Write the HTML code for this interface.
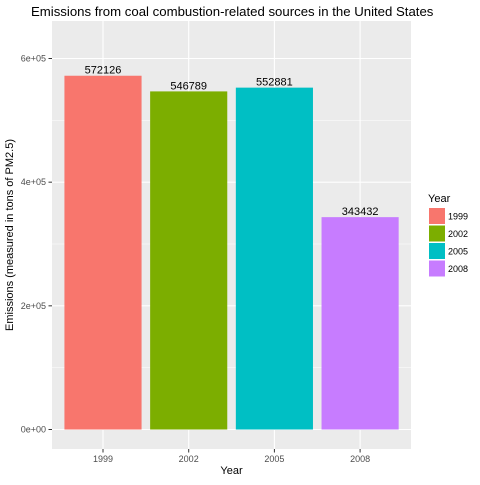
<!DOCTYPE html>
<html><head><meta charset="utf-8"><style>
body{margin:0;background:#fff;font-family:"Liberation Sans",sans-serif}
</style></head><body>
<svg id="chart" width="480" height="480" xmlns="http://www.w3.org/2000/svg" font-family="Liberation Sans, sans-serif">
<rect x="0" y="0" width="480" height="480" fill="#fff"/>
<rect x="52" y="21" width="359" height="428" fill="#ebebeb"/>
<g id="grid"></g>
<g id="bars"></g>
<g id="axes"></g>
<text x="31" y="16" font-size="13.2" fill="#000">Emissions from coal combustion-related sources in the United States</text>
<text x="231.5" y="474" font-size="11" text-anchor="middle">Year</text>
<text transform="translate(13,235) rotate(-90)" font-size="11" text-anchor="middle">Emissions (measured in tons of PM2.5)</text>
<g id="legend">
<text x="428" y="202" font-size="11">Year</text>
</g>
</svg>
<script>
const categories=["1999","2002","2005","2008"];
const values=[572126,546789,552881,343432];
const colors=["#F8766D","#7CAE00","#00BFC4","#C77CFF"];
const yTicks=[0,200000,400000,600000];
const yTickLabels=["0e+00","2e+05","4e+05","6e+05"];
const NS="http://www.w3.org/2000/svg";
const y0=429.5,k=371/600000;
function yS(v){return y0-v*k;}
const step=85.7,x0=103;
function xS(i){return x0+i*step;}
function mk(tag,attrs,parent,text){const e=document.createElementNS(NS,tag);for(const a in attrs)e.setAttribute(a,attrs[a]);if(text!=null)e.textContent=text;document.getElementById(parent).appendChild(e);return e;}
for(let v=100000;v<=700000;v+=200000){const y=yS(v);if(y<21)continue;
const g=mk('line',{x1:52,x2:411,y1:y,y2:y,stroke:'#fff','stroke-width':0.5},'grid');

}
yTicks.forEach((v,i)=>{const y=yS(v);
const g=mk('line',{x1:52,x2:411,y1:y,y2:y,stroke:'#fff','stroke-width':1.1},'grid');


const t=mk('line',{x1:48.5,x2:52,y1:y,y2:y,stroke:'#333','stroke-width':1},'axes');


const l=mk('text',{x:46,y:y+3,'font-size':9,fill:'#4d4d4d','text-anchor':'end'},'axes',yTickLabels[i]);

});
categories.forEach((c,i)=>{const x=xS(i);
const g=mk('line',{x1:x,x2:x,y1:21,y2:449,stroke:'#fff','stroke-width':1.1},'grid');


const w=step*0.9;
const b=mk('rect',{x:x-w/2,y:yS(values[i]),width:w,height:y0-yS(values[i]),fill:colors[i]},'bars');


const vl=mk('text',{x:x,y:yS(values[i])-2,'font-size':11,'text-anchor':'middle',fill:'#000'},'bars',String(values[i]));


const t=mk('line',{x1:x,x2:x,y1:449,y2:452.5,stroke:'#333','stroke-width':1},'axes');


const l=mk('text',{x:x,y:462,'font-size':9,fill:'#4d4d4d','text-anchor':'middle'},'axes',c);


const ly=208+i*17.5;
const s=mk('rect',{x:429,y:ly,width:16,height:16,fill:colors[i]},'legend');


const lt=mk('text',{x:448,y:ly+11.5,'font-size':9,fill:'#000'},'legend',c);

});
</script>
</body></html>
